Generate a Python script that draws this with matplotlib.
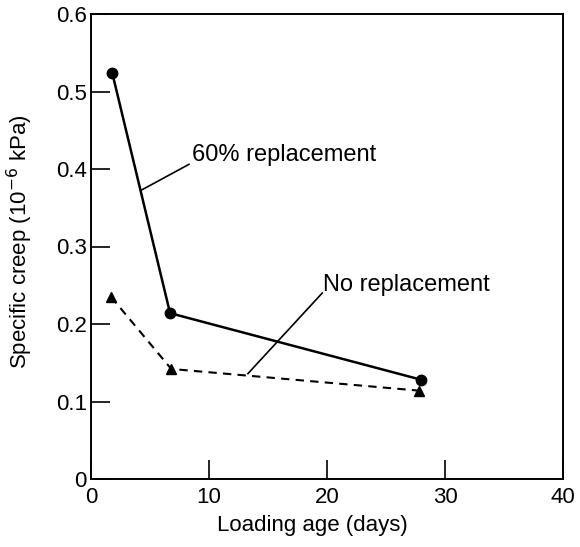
import matplotlib.pyplot as plt

plt.rcParams.update({"font.size": 12, "font.family": "Liberation Sans"})

# loading ages and specific creep values
age_60 = [1.8, 6.7, 28]
creep_60 = [0.524, 0.214, 0.128]
age_none = [1.7, 6.8, 27.8]
creep_none = [0.235, 0.142, 0.114]

x_ticks = [0, 10, 20, 30, 40]
y_ticks = [0, 0.1, 0.2, 0.3, 0.4, 0.5, 0.6]
y_labels = ["0", "0.1", "0.2", "0.3", "0.4", "0.5", "0.6"]

fig = plt.figure(figsize=(5.8, 5.47), dpi=100)
ax = fig.add_axes([91 / 580, 68 / 547, 472 / 580, 465 / 547])

ax.plot(age_60, creep_60, "k-", lw=1.8, marker="o", ms=7.5)
ax.plot(age_none, creep_none, "k--", lw=1.5, marker="^", ms=7, dashes=(4, 3))

ax.set_xlim(0, 40)
ax.set_ylim(0, 0.6)
ax.set_xticks(x_ticks)
ax.set_yticks(y_ticks)
ax.set_yticklabels(y_labels)
ax.tick_params(direction="in", length=14, width=1.2, labelsize=16)
ax.tick_params(axis="x", pad=6)
ax.tick_params(axis="y", pad=3)
for s in ax.spines.values():
    s.set_linewidth(1.4)

# leader lines and labels for the two curves
ax.plot([4.3, 8.3], [0.373, 0.406], "k-", lw=1.2)
ax.text(8.6, 0.418, "60% replacement", fontsize=17, va="center")
ax.plot([13.3, 19.6], [0.136, 0.24], "k-", lw=1.2)
ax.text(19.7, 0.25, "No replacement", fontsize=17, va="center")

ax.set_xlabel("Loading age (days)", fontsize=16)
ax.xaxis.set_label_coords(0.468, -0.077)
ax.set_ylabel("Specific creep (10$^{-6}$ kPa)", fontsize=16)
ax.yaxis.set_label_coords(-0.118, 0.51)

fig.savefig("out.png", dpi=100)
